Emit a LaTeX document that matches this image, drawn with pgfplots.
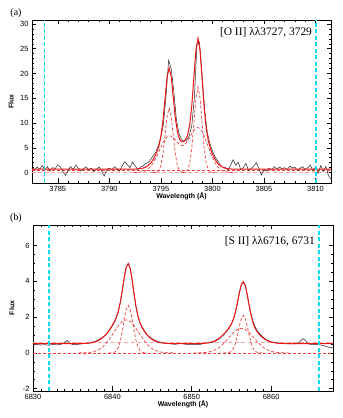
\documentclass[border=0pt]{standalone}
\usepackage{fontspec}
\setmainfont{Liberation Serif}
\setsansfont{Liberation Sans}
\usepackage{pgfplots}
\pgfplotsset{compat=1.18}

\definecolor{specred}{RGB}{238,20,20}
\definecolor{comp}{RGB}{236,60,60}
\definecolor{pinkd}{RGB}{246,165,165}
\definecolor{cyanl}{RGB}{0,222,238}

\pgfplotsset{idl/.style={
  scale only axis, clip=true,
  axis line style={line width=0.6pt},
  tick align=inside, xtick pos=both, ytick pos=both,
  major tick length=4.5bp, minor tick length=2.3bp,
  every tick/.style={black,line width=0.5pt},
  ticklabel style={font=\sffamily\fontsize{7.5}{8}\selectfont},
  /pgf/number format/assume math mode=true,
  /pgf/number format/1000 sep={},
  xlabel={Wavelength (Å)}, ylabel={Flux},
  every axis y label/.style={at={(axis description cs:-0.07,0.5)},rotate=90,anchor=center,
    font=\sffamily\bfseries\fontsize{7}{8}\selectfont},
  every axis x label/.style={at={(axis description cs:0.5,-0.078)},anchor=center,
    font=\sffamily\bfseries\fontsize{7}{8}\selectfont},
}}
\tikzset{
  total/.style={specred,line width=1.0pt},
  data/.style={black!85,line width=0.5pt},
  cmp/.style={comp,line width=0.7pt,dash pattern=on 3bp off 2bp},
  base/.style={pinkd,line width=1.1pt,dash pattern=on 4bp off 2.5bp},
  win/.style={color=cyanl,line width=1.6pt,dash pattern=on 4bp off 2.5bp},
}

\begin{document}
\begin{tikzpicture}[x=1bp,y=1bp]
\path[use as bounding box] (-33bp,-27bp) rectangle (310bp,391bp);

% ---------------- (a) [O II]
\begin{axis}[idl, at={(-1bp,208bp)}, anchor=south west,
  width=299bp, height=163bp,
  xmin=3782.5, xmax=3811.5, ymin=-2.1, ymax=30.8,
  xtick={3785,3790,3795,3800,3805,3810}, minor x tick num=4,
  ytick={0,5,10,15,20,25,30}, minor y tick num=4]
\addplot[base] coordinates {(3782.5,0.05) (3811.5,0.05)};
\addplot[cmp] coordinates {(3782.5,0.55) (3811.5,0.55)};
% narrow components
\addplot[cmp] coordinates {(3794.2,0) (3794.4,0.01) (3794.6,0.09) (3794.8,0.41) (3795.0,1.42)
  (3795.2,3.73) (3795.4,7.48) (3795.6,11.32) (3795.8,13.0) (3796.0,11.32) (3796.2,7.48)
  (3796.4,3.73) (3796.6,1.42) (3796.8,0.41) (3797.0,0.09) (3797.2,0.01) (3797.4,0)};
\addplot[cmp] coordinates {(3797.0,0) (3797.2,0.02) (3797.4,0.12) (3797.6,0.54) (3797.8,1.89)
  (3798.0,4.97) (3798.2,9.95) (3798.4,15.07) (3798.6,17.3) (3798.8,15.07) (3799.0,9.95)
  (3799.2,4.97) (3799.4,1.89) (3799.6,0.54) (3799.8,0.12) (3800.0,0.02) (3800.2,0)};
% broad components (sum)
\addplot[cmp] coordinates {(3792.4,0.01) (3792.6,0.025) (3792.8,0.05) (3793.0,0.095) (3793.2,0.17)
  (3793.4,0.30) (3793.6,0.50) (3793.8,0.80) (3794.0,1.21) (3794.2,1.77) (3794.4,2.47)
  (3794.6,3.29) (3794.8,4.20) (3795.0,5.13) (3795.2,6.00) (3795.4,6.71) (3795.6,7.20)
  (3795.8,7.42) (3796.0,7.35) (3796.2,7.05) (3796.4,6.60) (3796.6,6.10) (3796.8,5.69)
  (3797.0,5.47) (3797.2,5.51) (3797.4,5.82) (3797.6,6.39) (3797.8,7.11) (3798.0,7.87)
  (3798.2,8.54) (3798.4,8.97) (3798.6,9.10) (3798.8,8.85) (3799.0,8.27) (3799.2,7.38)
  (3799.4,6.31) (3799.6,5.18) (3799.8,4.05) (3800.0,3.04) (3800.2,2.18) (3800.4,1.49)
  (3800.6,0.98) (3800.8,0.62) (3801.0,0.37) (3801.2,0.21) (3801.4,0.12) (3801.6,0.06)
  (3801.8,0.03) (3802.0,0.015)};
% observed spectrum
\addplot[data] coordinates {
  (3782.50,0.9) (3782.75,0.6) (3783.00,1.1) (3783.25,0.7) (3783.50,1.4) (3783.75,0.5)
  (3784.00,1.2) (3784.25,0.3) (3784.50,1.0) (3784.75,0.8) (3785.00,1.6) (3785.25,1.1)
  (3785.50,0.2) (3785.75,-0.6) (3786.00,0.4) (3786.25,1.2) (3786.50,0.6) (3786.75,1.5)
  (3787.00,0.9) (3787.25,0.3) (3787.50,0.8) (3787.75,1.2) (3788.00,0.5) (3788.25,0.9)
  (3788.50,0.2) (3788.75,0.7) (3789.00,1.1) (3789.25,0.4) (3789.50,-0.7) (3789.75,0.6)
  (3790.00,0.9) (3790.25,0.5) (3790.50,1.2) (3790.75,0.8) (3791.00,0.3) (3791.25,1.4)
  (3791.50,2.2) (3791.75,1.6) (3792.00,1.0) (3792.25,2.1) (3792.50,1.4) (3792.75,0.6)
  (3793.00,1.1) (3793.25,1.3) (3793.50,1.8) (3793.75,2.0) (3794.00,2.6) (3794.25,3.4)
  (3794.50,4.1) (3794.75,5.4) (3795.00,7.2) (3795.25,9.8) (3795.50,15.5) (3795.75,22.7)
  (3796.00,21.0) (3796.25,16.5) (3796.50,10.8) (3796.75,7.9) (3797.00,6.7) (3797.25,6.3)
  (3797.50,6.5) (3797.75,7.4) (3798.00,9.5) (3798.25,15.2) (3798.50,25.8) (3798.75,26.3)
  (3799.00,19.5) (3799.25,12.6) (3799.50,8.1) (3799.75,5.9) (3800.00,4.4) (3800.25,3.2)
  (3800.50,2.4) (3800.75,1.6) (3801.00,1.0) (3801.25,1.1) (3801.50,0.5) (3801.75,1.4)
  (3802.00,2.6) (3802.25,1.5) (3802.50,2.1) (3802.75,0.6) (3803.00,1.0) (3803.25,1.9)
  (3803.50,0.4) (3803.75,0.8) (3804.00,1.3) (3804.25,2.0) (3804.50,0.9) (3804.75,-0.5)
  (3805.00,0.6) (3805.25,0.3) (3805.50,0.9) (3805.75,0.5) (3806.00,1.2) (3806.25,0.7)
  (3806.50,1.1) (3806.75,0.8) (3807.00,1.0) (3807.25,0.6) (3807.50,1.3) (3807.75,0.9)
  (3808.00,1.1) (3808.25,0.4) (3808.50,0.9) (3808.75,1.2) (3809.00,0.6) (3809.25,1.0)
  (3809.50,1.5) (3809.75,0.3) (3810.00,1.2) (3810.25,-0.2) (3810.50,1.4) (3810.75,0.2)
  (3811.00,1.3) (3811.25,-0.6) (3811.50,-1.3)};
% total fit
\addplot[total] coordinates {(3782.5,0.70) (3792.4,0.71) (3792.6,0.725) (3792.8,0.75)
  (3793.0,0.80) (3793.2,0.87) (3793.4,1.00) (3793.6,1.20) (3793.8,1.50) (3794.0,1.91)
  (3794.2,2.47) (3794.4,3.18) (3794.6,4.08) (3794.8,5.31) (3795.0,7.25) (3795.2,10.43)
  (3795.4,14.89) (3795.6,19.22) (3795.8,21.12) (3796.0,19.37) (3796.2,15.23) (3796.4,11.03)
  (3796.6,8.22) (3796.8,6.80) (3797.0,6.26) (3797.2,6.24) (3797.4,6.64) (3797.6,7.63)
  (3797.8,9.70) (3798.0,13.54) (3798.2,19.19) (3798.4,24.74) (3798.6,27.10) (3798.8,24.62)
  (3799.0,18.92) (3799.2,13.05) (3799.4,8.90) (3799.6,6.42) (3799.8,4.87) (3800.0,3.76)
  (3800.2,2.88) (3800.4,2.19) (3800.6,1.68) (3800.8,1.32) (3801.0,1.07) (3801.2,0.91)
  (3801.4,0.82) (3801.6,0.76) (3801.8,0.73) (3802.0,0.715) (3811.5,0.70)};
% fit window
\addplot[win] coordinates {(3783.70,-2.1) (3783.70,30.8)};
\addplot[win] coordinates {(3810.05,-2.1) (3810.05,30.8)};
\node[anchor=east,font=\fontsize{11.5}{12}\selectfont,inner sep=0pt]
  at (rel axis cs:0.937,0.925) {[O II] λλ3727, 3729};
\end{axis}

% ---------------- (b) [S II]
\begin{axis}[idl, at={(0bp,0bp)}, anchor=south west,
  width=300bp, height=166bp,
  xmin=6830, xmax=6867.8, ymin=-2.13, ymax=7.15,
  xtick={6830,6840,6850,6860}, minor x tick num=9,
  ytick={-2,0,2,4,6}, minor y tick num=3]
\addplot[base] coordinates {(6830,0.57) (6867.8,0.57)};
\addplot[cmp] coordinates {(6830,0) (6867.8,0)};
% components
\addplot[cmp] coordinates {(6839.5,0) (6839.75,0.002) (6840.0,0.010) (6840.25,0.038) (6840.5,0.116)
  (6840.75,0.302) (6841.0,0.660) (6841.25,1.214) (6841.5,1.874) (6841.75,2.43) (6842.0,2.65)
  (6842.25,2.43) (6842.5,1.874) (6842.75,1.214) (6843.0,0.660) (6843.25,0.302) (6843.5,0.116)
  (6843.75,0.038) (6844.0,0.010) (6844.25,0.002) (6844.5,0)};
\addplot[cmp] coordinates {(6835.75,0.002) (6836.25,0.005) (6836.75,0.014) (6837.25,0.036)
  (6837.75,0.081) (6838.25,0.169) (6838.75,0.318) (6839.25,0.546) (6839.75,0.847) (6840.25,1.191)
  (6840.75,1.523) (6841.25,1.761) (6841.75,1.85) (6842.25,1.761) (6842.75,1.523) (6843.25,1.191)
  (6843.75,0.847) (6844.25,0.546) (6844.75,0.318) (6845.25,0.169) (6845.75,0.081) (6846.25,0.036)
  (6846.75,0.014) (6847.25,0.005) (6847.75,0.002)};
\addplot[cmp] coordinates {(6854.0,0) (6854.25,0.002) (6854.5,0.008) (6854.75,0.030) (6855.0,0.092)
  (6855.25,0.239) (6855.5,0.523) (6855.75,0.962) (6856.0,1.485) (6856.25,1.926) (6856.5,2.1)
  (6856.75,1.926) (6857.0,1.485) (6857.25,0.962) (6857.5,0.523) (6857.75,0.239) (6858.0,0.092)
  (6858.25,0.030) (6858.5,0.008) (6858.75,0.002) (6859.0,0)};
\addplot[cmp] coordinates {(6850.25,0.001) (6850.75,0.004) (6851.25,0.010) (6851.75,0.026)
  (6852.25,0.061) (6852.75,0.126) (6853.25,0.237) (6853.75,0.407) (6854.25,0.632) (6854.75,0.889)
  (6855.25,1.136) (6855.75,1.314) (6856.25,1.38) (6856.75,1.314) (6857.25,1.136) (6857.75,0.889)
  (6858.25,0.632) (6858.75,0.407) (6859.25,0.237) (6859.75,0.126) (6860.25,0.061) (6860.75,0.026)
  (6861.25,0.010) (6861.75,0.004) (6862.25,0.001)};
% observed spectrum
\addplot[data] coordinates {
  (6830.0,0.50) (6830.5,0.47) (6831.0,0.44) (6831.5,0.46) (6832.0,0.43) (6832.5,0.47)
  (6833.0,0.45) (6833.5,0.48) (6834.0,0.58) (6834.3,0.70) (6834.6,0.56) (6835.0,0.46)
  (6835.5,0.47) (6836.0,0.50) (6836.5,0.52) (6837.0,0.55) (6837.5,0.60) (6838.0,0.68)
  (6838.5,0.80) (6839.0,0.95) (6839.25,1.05) (6839.5,1.19) (6839.75,1.33) (6840.0,1.50)
  (6840.25,1.70) (6840.5,1.95) (6840.75,2.30) (6841.0,2.80) (6841.25,3.45) (6841.5,4.20)
  (6841.75,4.80) (6842.0,4.97) (6842.25,4.72) (6842.5,4.05) (6842.75,3.22) (6843.0,2.50)
  (6843.25,2.00) (6843.5,1.68) (6843.75,1.45) (6844.0,1.28) (6844.25,1.10) (6844.5,0.95)
  (6845.0,0.80) (6845.5,0.68) (6846.0,0.60) (6846.5,0.55) (6847.0,0.52) (6847.5,0.50)
  (6848.0,0.48) (6848.5,0.55) (6849.0,0.50) (6849.5,0.47) (6850.0,0.46) (6850.5,0.48)
  (6851.0,0.47) (6851.5,0.52) (6852.0,0.56) (6852.5,0.57) (6853.0,0.66) (6853.5,0.80)
  (6854.0,1.00) (6854.25,1.12) (6854.5,1.25) (6854.75,1.40) (6855.0,1.60) (6855.25,1.86)
  (6855.5,2.25) (6855.75,2.76) (6856.0,3.33) (6856.25,3.80) (6856.5,3.95) (6856.75,3.74)
  (6857.0,3.22) (6857.25,2.62) (6857.5,2.10) (6857.75,1.72) (6858.0,1.45) (6858.25,1.25)
  (6858.5,1.10) (6859.0,0.88) (6859.5,0.72) (6860.0,0.62) (6860.5,0.58) (6861.0,0.55)
  (6861.5,0.53) (6862.0,0.52) (6862.5,0.50) (6863.0,0.51) (6863.5,0.58) (6864.0,0.80)
  (6864.3,0.72) (6864.6,0.52) (6865.0,0.47) (6865.5,0.48) (6866.0,0.46) (6866.5,0.42)
  (6867.0,0.35) (6867.5,0.30) (6867.8,0.28)};
% total fit
\addplot[total] coordinates {(6830.0,0.52) (6835.5,0.52) (6836.0,0.523) (6836.5,0.529)
  (6837.0,0.543) (6837.25,0.556) (6837.5,0.574) (6837.75,0.601) (6838.0,0.639) (6838.25,0.689)
  (6838.5,0.755) (6838.75,0.838) (6839.0,0.942) (6839.25,1.066) (6839.5,1.208) (6839.75,1.369)
  (6840.0,1.548) (6840.25,1.749) (6840.5,1.999) (6840.75,2.345) (6841.0,2.838) (6841.25,3.495)
  (6841.5,4.222) (6841.75,4.80) (6842.0,4.998) (6842.25,4.711) (6842.5,4.052) (6842.75,3.257)
  (6843.0,2.543) (6843.25,2.013) (6843.5,1.654) (6843.75,1.405) (6844.0,1.218) (6844.25,1.068)
  (6844.5,0.942) (6844.75,0.838) (6845.0,0.755) (6845.25,0.689) (6845.5,0.639) (6845.75,0.601)
  (6846.0,0.574) (6846.5,0.543) (6847.0,0.529) (6847.5,0.523) (6848.0,0.52) (6850.0,0.52)
  (6850.5,0.522) (6851.0,0.526) (6851.5,0.537) (6851.75,0.546) (6852.0,0.561) (6852.25,0.581)
  (6852.5,0.608) (6852.75,0.646) (6853.0,0.695) (6853.25,0.757) (6853.5,0.835) (6853.75,0.927)
  (6854.0,1.033) (6854.25,1.154) (6854.5,1.287) (6854.75,1.439) (6855.0,1.629) (6855.25,1.895)
  (6855.5,2.279) (6855.75,2.796) (6856.0,3.368) (6856.25,3.826) (6856.5,3.983) (6856.75,3.760)
  (6857.0,3.241) (6857.25,2.618) (6857.5,2.060) (6857.75,1.648) (6858.0,1.371) (6858.25,1.182)
  (6858.5,1.041) (6858.75,0.929) (6859.0,0.835) (6859.25,0.757) (6859.5,0.695) (6859.75,0.646)
  (6860.0,0.608) (6860.25,0.581) (6860.5,0.561) (6861.0,0.537) (6861.5,0.526) (6862.0,0.522)
  (6862.5,0.52) (6867.8,0.52)};
% fit window
\addplot[win] coordinates {(6832.05,-2.13) (6832.05,7.15)};
\addplot[win] coordinates {(6866.0,-2.13) (6866.0,7.15)};
\node[anchor=east,font=\fontsize{11.5}{12}\selectfont,inner sep=0pt]
  at (rel axis cs:0.94,0.90) {[S II] λλ6716, 6731};
\end{axis}

\node[font=\fontsize{10}{11}\selectfont,inner sep=0pt] at (-17bp,378bp) {(a)};
\node[font=\fontsize{10}{11}\selectfont,inner sep=0pt] at (-17bp,173bp) {(b)};
\end{tikzpicture}
\end{document}
